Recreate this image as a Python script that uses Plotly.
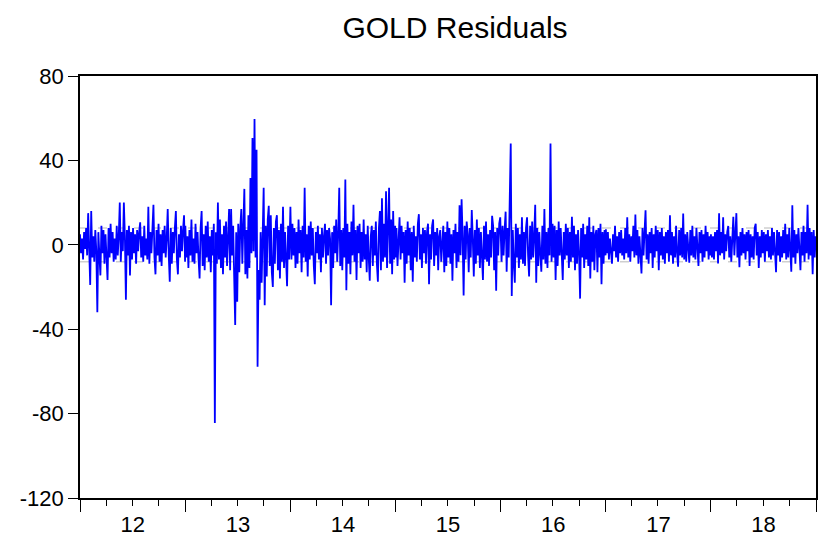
import pandas as pd
import plotly.graph_objects as go

res_2012 = [5, -4, 3, -7, 6, -2, 8, -5, 15, 2, -19, 16, -6,
            4, -8, 7, -3, -32, 6, -5, -14.5, 9, -4, 7, -9, 5,
            -3, -16.7, 8, -6, 10, -4, 6, -8, 3, -7, 9, -5, 4,
            20, -8, 6, -3, 20, 4, -26, 7, -5, 9, -14.5, 6, -7,
            8, -4, 5, -9, 7, -3, 6, 10.7, -6, 4, -8, 9, -5,
            3, -7, 18, -9, 6, -4, 8, 19, -6, -14, 7, -5, 10,
            -8, 5, -10, 7, -4, 9, -6, 3, 17, -5, -17.5, 8, -9,
            6, -4, 8, 16, -7, -14, 5, -6, 9, -3, 7, 14, -8]
res_2013 = [9, -6, 4, -11, 7, -5, 12, -8, 3, -9, 10, -4, 6,
            -7, -16, 8, 16, -10, 5, -12, 9, -6, 11, -8, 4, -13,
            7, -5, 10, -84.5, 6, -9, 20, -7, 12, -11, 5, -14, 9,
            -6, 11, -10, 8, 17, -12, 17, -5, 9, -15, -38, 6, -27,
            10, -13, 8, 17, -9, 12, 26.5, -14, 7, -16, 14, -11, 31.6,
            -4, 50.6, -3, 59.6, -6, 45, -57.8, -12, -26, 6, -18, 13, 27,
            -28.6, 9, -15, 12, 18.5, -10, 14, -13, -20, 8, -9, 11, 14,
            -12, 7, -16, 10, -8, 18, -11, 6, -14, -19.6, 9, -7, 12]
res_2014 = [18, -7, 10, -5, 8, -11, 6, -9, 12, -4, 7, -13, 9,
            -6, 27, -8, 5, -15, 9, -7, 11, -5, 8, -10, -18.7, 6,
            -4, 9, -7, 5, -13, 8, -6, 4, 10, -9, 7, -5, 8,
            3, -28.6, 6, -11, 9, -4, 12, -8, 5, 27, -10, 7, -12,
            8, -6, 31, -21.5, 10, -9, 6, -14, 11, -5, 19, -8, 7,
            -16.7, 9, -4, 10, -11, 6, -8, 12, -7, 5, -13, 9, -6,
            -17, 4, 9, -10, 7, -5, 11, -9, -17.5, 8, 16, -12, 22,
            -8, 10, -6, 25.4, -11, 7, 27, -9, 12, -14, 16, -7, 9]
res_2015 = [-6, 8, -10, 5, 13, -7, 9, -4, 6, -18, 7, -9, 11,
            -5, 8, -12, 6, -17.5, 9, -6, 4, -8, 10, 14.5, -7, 5,
            -11, 8, -4, 7, -9, 6, 10, -18.7, 5, -7, 9, 12, -10,
            6, -5, 8, -12, 4, 7, -8, 5, 9, -13, 6, -10, 11,
            -6, 8, -9, 5, -17, 7, -4, 10, -11, 6, -8, 18.7, -5,
            21.6, 4, -24, 9, -7, 11, 5, -13, 8, -6, 16.5, 3, -15,
            7, -9, 12, -5, 8, -11, 6, -4, -16.7, 9, -7, 11, -8,
            5, -10, 7, -6, 13.7, 9, -12, 6, -21.8, 8, -5, 10, 13]
res_2016 = [6, -8, 9, -5, 7, 15.7, -12.8, 8, -6, 30, 48, -24.3, 7,
            -9, -18, 10, -6, 8, -11, 5, -7, 13, -9, 6, -10, 8,
            13, -5, -15, 9, -7, 11, -6, 4, 19, -18, 8, -10, 6,
            -4, -12.8, 9, -7, 17, -9, 6, -11, 8, -5, 48, -8, 10,
            -6, 9, -16.7, 7, -10, 11, -5, 8, -9, -16.7, 6, -7, 10,
            -5, 8, -11, 6, -8, 13.3, -6, 9, -12, 5, -9, 7, -4,
            -25.5, 8, -6, 10, -11, 5, -7, 9, -10, 13, -16, 6, -8,
            9, -12, 5, 7, -13, 8, -6, 10, -18.7, 6, -9, 7, -5]
res_2017 = [7.4, -4, 6, -7, 3, -5, -9, 5, -3, 9, -6, 4, -8,
            6, -4, 7, -5, 3, -7, 8, -4, 13, -6, 5, -8, 4,
            -3, 9, -6, 14.4, -5, 7, -9, 4, -6, -13.6, 8, -5, 6,
            16.4, -7, 5, -9, 6, -4, 8, -11, 5, -6, 9, -3, 7,
            -12, 6, -5, 8, -7, 4, -9, 6, -4, 7, -8, 14, -5,
            6, -9, 4, -6, 9, -4, -10.4, 7, -5, 8, -6, 14.8, -7,
            5, -8, 6, -4, -8.5, 7, -5, 9, -6, 4, -7, 8, -5,
            -10, 6, -4, 7, -8, 5, -6, 9, -3, 6, -7, 4, -5]
res_2018 = [5, -6, 4, -7, 6, -3, 7, -8.8, 15, -5, 6, -4, 13,
            -7, 5, -3, 6, 8.9, -6, 4, -8, 5, 13.3, -5, 7, 15,
            -6, 4, -10.6, 6, -5, 8, -4, 5, -7, 6, -3, 7, -10,
            5, -6, 4, -7, 8, 10, -5, 6, -11, 4, -6, 7, -4,
            6, -8, 5, -3, 7, -6, 4, -7, 8, -5, 6, -4, -13,
            7, -5, 6, -8, 4, -6, 7, -4, 10, -7, 5, -6, 8,
            -5, -12.8, 18.7, -6, 7, -9, 5, -4, 8, -7, -12, 6, -5,
            9, -8, 6, -4, 19, -7, 8, -5, 6, -13.9, 7, -6, 4]

years = [2012, 2013, 2014, 2015, 2016, 2017, 2018]
series_by_year = [res_2012, res_2013, res_2014, res_2015, res_2016, res_2017, res_2018]
band_level = 8          # dashed reference lines at +/- this value
y_ticks = [-120, -80, -40, 0, 40, 80]

dates = []
values = []
for yr, vals in zip(years, series_by_year):
    d = pd.date_range(f"{yr}-01-01", f"{yr}-12-31", periods=len(vals))
    dates.extend(list(d))
    values.extend(vals)

FONT = "Liberation Sans, Arial, sans-serif"

fig = go.Figure()
fig.add_trace(go.Scatter(x=dates, y=values, mode="lines",
                         line=dict(color="#0000ff", width=1.8),
                         hoverinfo="skip", showlegend=False))

for lvl in (band_level, -band_level):
    fig.add_shape(type="line", xref="paper", x0=0, x1=1, yref="y", y0=lvl, y1=lvl,
                  line=dict(color="#cfcfcf", width=1.5, dash="dash"), layer="below")

fig.update_layout(
    width=818, height=541,
    margin=dict(l=80, r=0, t=76, b=43),
    paper_bgcolor="white", plot_bgcolor="white",
    title=dict(text="GOLD Residuals", x=455 / 818, xanchor="center",
               y=1 - 27 / 541, yanchor="middle",
               font=dict(family=FONT, size=30, color="black")),
    font=dict(family=FONT, size=22, color="black"),
)

fig.update_xaxes(
    type="date", range=["2012-01-01", "2019-01-01"],
    dtick="M12", tick0="2012-01-01", tickformat="%y", ticklabelmode="period",
    ticks="outside", ticklen=12, tickwidth=1.2, tickcolor="black",
    minor=dict(dtick="M3", ticks="outside", ticklen=6, tickwidth=1, tickcolor="black", showgrid=False),
    showline=True, linecolor="black", linewidth=1.5, mirror=True,
    showgrid=False, zeroline=False, ticklabelstandoff=-6,
    tickfont=dict(family=FONT, size=22, color="black"),
)
fig.update_yaxes(
    range=[-120, 80], tickvals=y_ticks, ticktext=[str(v) for v in y_ticks],
    ticks="outside", ticklen=10, tickwidth=1, tickcolor="black",
    showline=True, linecolor="black", linewidth=1.5, mirror=True,
    showgrid=False, zeroline=False,
    tickfont=dict(family=FONT, size=22, color="black"),
)

fig.write_html("out.html")
